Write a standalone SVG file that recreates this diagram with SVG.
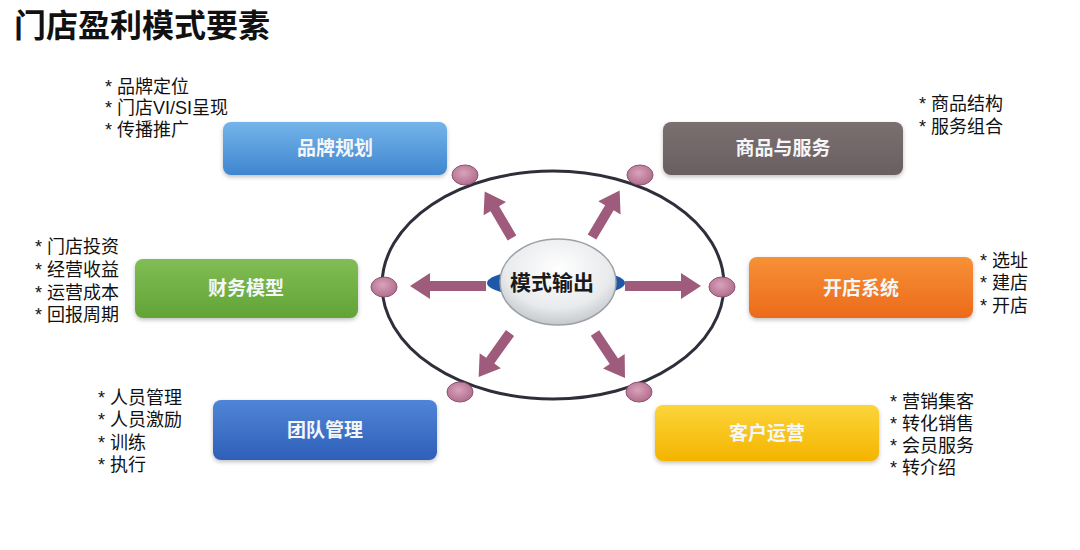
<svg xmlns="http://www.w3.org/2000/svg" width="1080" height="550" viewBox="0 0 1080 550">
<defs>
<linearGradient id="gBlue" x1="0" y1="0" x2="0" y2="1"><stop offset="0" stop-color="#74b4ea"/><stop offset="1" stop-color="#3f86cf"/></linearGradient>
<linearGradient id="gGray" x1="0" y1="0" x2="0" y2="1"><stop offset="0" stop-color="#7a6f70"/><stop offset="1" stop-color="#6a5f61"/></linearGradient>
<linearGradient id="gGreen" x1="0" y1="0" x2="0" y2="1"><stop offset="0" stop-color="#80bd55"/><stop offset="1" stop-color="#62a436"/></linearGradient>
<linearGradient id="gOrange" x1="0" y1="0" x2="0" y2="1"><stop offset="0" stop-color="#f79137"/><stop offset="1" stop-color="#ec6a1a"/></linearGradient>
<linearGradient id="gNavy" x1="0" y1="0" x2="0" y2="1"><stop offset="0" stop-color="#4f85d8"/><stop offset="1" stop-color="#2f5fb8"/></linearGradient>
<linearGradient id="gYellow" x1="0" y1="0" x2="0" y2="1"><stop offset="0" stop-color="#fcd53a"/><stop offset="1" stop-color="#f4b400"/></linearGradient>
<radialGradient id="gDot" cx="0.45" cy="0.4" r="0.6"><stop offset="0" stop-color="#d9a3bb"/><stop offset="1" stop-color="#b06d8d"/></radialGradient>
<radialGradient id="gCenter" cx="0.5" cy="0.35" r="0.65"><stop offset="0" stop-color="#ffffff"/><stop offset="0.7" stop-color="#e8eaec"/><stop offset="1" stop-color="#c4c8cc"/></radialGradient>
<filter id="sh" x="-10%" y="-20%" width="120%" height="150%"><feDropShadow dx="0" dy="2" stdDeviation="2" flood-color="#000" flood-opacity="0.25"/></filter>
<polygon id="arrS" points="0,-5 34,-5 34,-13 54,0 34,13 34,5 0,5"/>
<polygon id="arrL" points="0,-5 56,-5 56,-13 76,0 56,13 56,5 0,5"/>
<style>
.box{filter:url(#sh)}
.bt{font-family:"Noto Sans CJK SC","Noto Sans",sans-serif;font-size:19px;font-weight:bold;fill:#f4f6f8;text-anchor:middle}
.bl{font-family:"Liberation Sans","Noto Sans CJK SC",sans-serif;font-size:18px;fill:#111}
.dot{fill:url(#gDot);stroke:#8e5272;stroke-width:1}
.arr{fill:#9f5b7c}
</style>
</defs>
<rect width="1080" height="550" fill="#ffffff"/>
<text x="14" y="37" font-family="'Noto Sans CJK SC','Noto Sans',sans-serif" font-size="32" font-weight="bold" fill="#111">门店盈利模式要素</text>

<g id="ring">
<ellipse cx="553" cy="285" rx="171" ry="114" fill="none" stroke="#2f2f3c" stroke-width="3"/>
<ellipse class="dot" cx="465" cy="175" rx="13" ry="10"/>
<ellipse class="dot" cx="640" cy="175" rx="13" ry="10"/>
<ellipse class="dot" cx="384" cy="287" rx="13" ry="10"/>
<ellipse class="dot" cx="722" cy="287" rx="13" ry="10"/>
<ellipse class="dot" cx="460" cy="392" rx="13" ry="10"/>
<ellipse class="dot" cx="639" cy="392" rx="13" ry="10"/>
</g>

<g id="connectors" class="arr">
<use href="#arrS" transform="translate(512,238) rotate(-120.4)"/>
<use href="#arrS" transform="translate(592,237) rotate(-59.2)"/>
<use href="#arrS" transform="translate(510,333) rotate(125.5)"/>
<use href="#arrS" transform="translate(595,333) rotate(56.3)"/>
<use href="#arrL" transform="translate(486,286) rotate(180)"/>
<use href="#arrL" transform="translate(625,286)"/>
</g>

<g id="center">
<ellipse cx="556" cy="283" rx="69" ry="15" fill="#1f57a8"/>
<ellipse cx="558" cy="282" rx="58" ry="43" fill="url(#gCenter)" stroke="#9aa0a6" stroke-width="1.5"/>
<text x="552" y="290" font-family="'Noto Sans CJK SC','Noto Sans',sans-serif" font-size="21" font-weight="bold" fill="#1a1a1a" text-anchor="middle">模式输出</text>
</g>

<g id="brand">
<rect class="box" x="223" y="122" width="224" height="53" rx="8" fill="url(#gBlue)"/>
<text class="bt" x="335" y="155">品牌规划</text>
<text class="bl" x="105" y="93">* 品牌定位</text>
<text class="bl" x="105" y="114">* 门店VI/SI呈现</text>
<text class="bl" x="105" y="136">* 传播推广</text>
</g>

<g id="goods">
<rect class="box" x="663" y="122" width="240" height="53" rx="8" fill="url(#gGray)"/>
<text class="bt" x="783" y="155">商品与服务</text>
<text class="bl" x="919" y="110">* 商品结构</text>
<text class="bl" x="919" y="133">* 服务组合</text>
</g>

<g id="finance">
<rect class="box" x="135" y="259" width="223" height="59" rx="8" fill="url(#gGreen)"/>
<text class="bt" x="246" y="295">财务模型</text>
<text class="bl" x="35" y="253">* 门店投资</text>
<text class="bl" x="35" y="276">* 经营收益</text>
<text class="bl" x="35" y="299">* 运营成本</text>
<text class="bl" x="35" y="321">* 回报周期</text>
</g>

<g id="opening">
<rect class="box" x="749" y="257" width="224" height="61" rx="8" fill="url(#gOrange)"/>
<text class="bt" x="861" y="295">开店系统</text>
<text class="bl" x="980" y="267">* 选址</text>
<text class="bl" x="980" y="289">* 建店</text>
<text class="bl" x="980" y="312">* 开店</text>
</g>

<g id="team">
<rect class="box" x="213" y="400" width="224" height="60" rx="8" fill="url(#gNavy)"/>
<text class="bt" x="325" y="437">团队管理</text>
<text class="bl" x="98" y="404">* 人员管理</text>
<text class="bl" x="98" y="426">* 人员激励</text>
<text class="bl" x="98" y="449">* 训练</text>
<text class="bl" x="98" y="471">* 执行</text>
</g>

<g id="customer">
<rect class="box" x="655" y="405" width="224" height="56" rx="8" fill="url(#gYellow)"/>
<text class="bt" x="767" y="440">客户运营</text>
<text class="bl" x="890" y="408">* 营销集客</text>
<text class="bl" x="890" y="430">* 转化销售</text>
<text class="bl" x="890" y="452">* 会员服务</text>
<text class="bl" x="890" y="474">* 转介绍</text>
</g>
</svg>
